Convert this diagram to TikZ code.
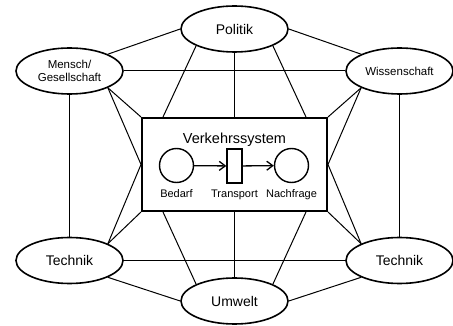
\documentclass[tikz,border=0pt]{standalone}
\usepackage{fontspec}
\setmainfont{Liberation Sans}
\usetikzlibrary{arrows.meta, shapes.geometric, calc}

\begin{document}
\begin{tikzpicture}[x=1pt, y=-1pt, >={Straight Barb[length=6pt, width=9pt]},
  bereich/.style={draw, ellipse, line width=1.6pt, fill=white, inner sep=0pt,
    minimum width=107pt, minimum height=46pt, font=\fontsize{14}{16}\selectfont},
  klein/.style={font=\fontsize{11.5}{13}\selectfont, align=center},
  kante/.style={line width=1pt},
  stelle/.style={draw, circle, line width=1.4pt, minimum size=34pt, inner sep=0pt},
  transition/.style={draw, rectangle, line width=1.4pt, minimum width=15pt, minimum height=34pt, inner sep=0pt},
  beschriftung/.style={anchor=base, font=\fontsize{11}{13}\selectfont}]

  \useasboundingbox (0,0) rectangle (453,326);

  % Verkehrssystem
  \node[draw, line width=2pt, minimum width=185pt, minimum height=93pt, inner sep=0pt] (system) at (234.5,164.5) {};
  \node[anchor=base, font=\fontsize{14.5}{17}\selectfont] (titel) at (234.5,144) {Verkehrssystem};
  \node[stelle] (bedarf) at (176.5,165.5) {};
  \node[transition] (transport) at (234.5,166) {};
  \node[stelle] (nachfrage) at (291.5,165.5) {};
  \node[beschriftung] (lbedarf) at (176.5,197.5) {Bedarf};
  \node[beschriftung] (ltransport) at (234.5,197.5) {Transport};
  \node[beschriftung] (lnachfrage) at (291.5,197.5) {Nachfrage};
  \draw[->, line width=1.3pt] (bedarf) -- (transport);
  \draw[->, line width=1.3pt] (transport) -- (nachfrage);

  % Punkte am Rahmen
  \coordinate (system-nl) at ($(system.north)+(-71.5,0)$);
  \coordinate (system-nr) at ($(system.north)+(71.5,0)$);
  \coordinate (system-sl) at ($(system.south)+(-71.5,0)$);
  \coordinate (system-sr) at ($(system.south)+(71.5,0)$);

  % Bereiche
  \node[bereich] (politik) at (234.5,29) {Politik};
  \node[bereich, klein] (mensch) at (69.5,71) {Mensch/\\Gesellschaft};
  \node[bereich, klein] (wissen) at (399.5,71) {Wissenschaft};
  \node[bereich] (technikl) at (69.5,260.5) {Technik};
  \node[bereich] (technikr) at (399.5,260.5) {Technik};
  \node[bereich] (umwelt) at (234.5,301) {Umwelt};

  % Kanten aussen
  \draw[kante] (mensch.north east) -- (politik.west);
  \draw[kante] (politik.east) -- (wissen.north west);
  \draw[kante] (mensch) -- (wissen);
  \draw[kante] (mensch) -- (technikl);
  \draw[kante] (wissen) -- (technikr);
  \draw[kante] (technikl) -- (technikr);
  \draw[kante] (technikl.south east) -- (umwelt.west);
  \draw[kante] (umwelt.east) -- (technikr.south west);

  % Kanten zum System
  \draw[kante] (politik.south west) -- (system-nl);
  \draw[kante] (politik.south) -- (system.north);
  \draw[kante] (politik.south east) -- (system-nr);
  \draw[kante] (mensch.south east) -- (system.north west);
  \draw[kante] (mensch.south east) -- (system.west);
  \draw[kante] (wissen.south west) -- (system.north east);
  \draw[kante] (wissen.south west) -- (system.east);
  \draw[kante] (technikl.north east) -- (system.south west);
  \draw[kante] (technikl.north east) -- (system.west);
  \draw[kante] (technikr.north west) -- (system.south east);
  \draw[kante] (technikr.north west) -- (system.east);
  \draw[kante] (umwelt.north west) -- (system-sl);
  \draw[kante] (umwelt.north) -- (system.south);
  \draw[kante] (umwelt.north east) -- (system-sr);

\end{tikzpicture}
\end{document}
